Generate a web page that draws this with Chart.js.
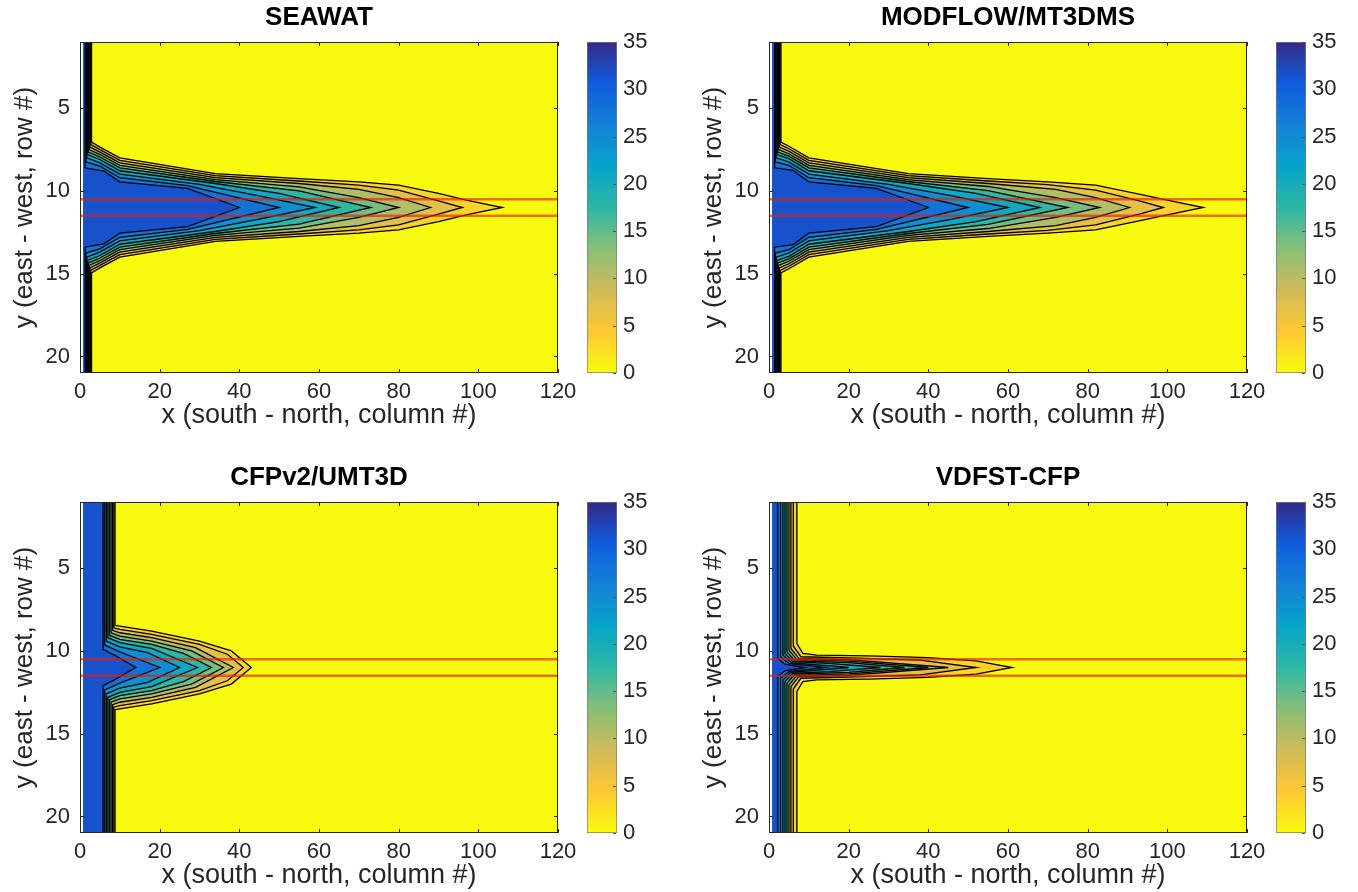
<!DOCTYPE html>
<html>
<head>
<meta charset="utf-8">
<title>Salinity plume comparison</title>
<script src="https://cdn.jsdelivr.net/npm/chart.js@4.4.1/dist/chart.umd.min.js"></script>
<style>
  body { margin: 0; background: #fff; width: 1358px; height: 892px; position: relative; overflow: hidden; }
  canvas { position: absolute; }
</style>
</head>
<body>
<canvas id="p1" width="585" height="432" style="left:0;top:0"></canvas>
<canvas id="c1" width="80" height="432" style="left:580px;top:0"></canvas>
<canvas id="p2" width="585" height="432" style="left:689px;top:0"></canvas>
<canvas id="c2" width="80" height="432" style="left:1269px;top:0"></canvas>
<canvas id="p3" width="585" height="432" style="left:0;top:460px"></canvas>
<canvas id="c3" width="80" height="432" style="left:580px;top:460px"></canvas>
<canvas id="p4" width="585" height="432" style="left:689px;top:460px"></canvas>
<canvas id="c4" width="80" height="432" style="left:1269px;top:460px"></canvas>
<script>
// grid extents and axis ticks
const columnRange = [0, 120];
const rowRange = [1, 21];
const rowTicks = [5, 10, 15, 20];
const concRange = [0, 35];
const firstColumn = 0.8;

// contour levels (concentration) and the conduit row
const levels = [3.5, 7, 10.5, 14, 17.5, 21, 24.5, 28, 31.5];
const plumeRow = 11;
const conduitEdges = [10.5, 11.5];

const titles = ['SEAWAT', 'MODFLOW/MT3DMS', 'CFPv2/UMT3D', 'VDFST-CFP'];

// each contour: [column, half-width in rows] from the boundary wall to the tip
const seawatPlume = [
  [[2.9, 3.95], [5, 3.65], [10, 3.0], [34, 2.05], [55, 1.75], [70, 1.55], [80, 1.35], [90, 0.85], [97, 0.45], [106, 0]],
  [[2.7, 3.8], [5, 3.5], [10, 2.85], [34, 1.92], [55, 1.6], [70, 1.35], [80, 1.05], [90, 0.4], [96, 0]],
  [[2.5, 3.65], [5, 3.35], [10, 2.7], [34, 1.8], [55, 1.45], [70, 1.1], [80, 0.6], [88, 0]],
  [[2.3, 3.5], [5, 3.2], [10, 2.55], [34, 1.68], [55, 1.25], [70, 0.6], [80, 0]],
  [[2.1, 3.35], [5, 3.05], [10, 2.4], [34, 1.57], [55, 1.0], [73, 0]],
  [[1.9, 3.2], [5, 2.9], [10, 2.22], [34, 1.45], [50, 0.85], [65, 0]],
  [[1.7, 3.0], [5, 2.7], [10, 2.02], [30, 1.4], [45, 0.7], [59, 0]],
  [[1.5, 2.75], [5, 2.5], [10, 1.8], [27, 1.32], [50, 0]],
  [[1.3, 2.4], [6, 2.2], [10, 1.55], [27, 1.15], [40, 0]]
];

const modflowPlume = [
  [[3.0, 3.95], [5, 3.7], [10, 3.0], [35, 2.05], [55, 1.75], [70, 1.55], [82, 1.35], [92, 0.85], [100, 0.45], [109, 0]],
  [[2.8, 3.8], [5, 3.55], [10, 2.85], [35, 1.92], [55, 1.6], [70, 1.38], [82, 1.05], [93, 0.4], [99, 0]],
  [[2.6, 3.65], [5, 3.4], [10, 2.7], [35, 1.8], [55, 1.45], [72, 1.1], [82, 0.6], [90.5, 0]],
  [[2.4, 3.5], [5, 3.25], [10, 2.55], [35, 1.68], [55, 1.27], [72, 0.6], [83, 0]],
  [[2.2, 3.35], [5, 3.1], [10, 2.4], [35, 1.57], [55, 1.02], [75, 0]],
  [[2.0, 3.2], [5, 2.95], [10, 2.22], [35, 1.45], [52, 0.85], [68, 0]],
  [[1.8, 3.0], [5, 2.75], [10, 2.02], [30, 1.4], [46, 0.7], [60, 0]],
  [[1.6, 2.75], [5, 2.55], [10, 1.8], [27, 1.32], [50, 0]],
  [[1.4, 2.4], [6, 2.25], [10, 1.55], [27, 1.15], [40, 0]]
];

const cfpPlume = [
  [[8.8, 2.55], [10, 2.5], [18, 2.2], [30, 1.6], [38, 1.0], [43, 0]],
  [[8.5, 2.4], [10, 2.3], [18, 2.0], [30, 1.4], [37, 0.8], [41, 0]],
  [[8.2, 2.25], [10, 2.1], [18, 1.8], [29, 1.2], [38.5, 0]],
  [[7.8, 2.1], [10, 1.9], [18, 1.6], [28, 1.0], [36, 0]],
  [[7.4, 1.95], [10, 1.7], [18, 1.4], [26, 0.85], [33, 0]],
  [[7.0, 1.8], [10, 1.5], [18, 1.15], [29.5, 0]],
  [[6.6, 1.6], [10, 1.25], [17, 0.9], [25, 0]],
  [[6.2, 1.35], [10, 0.95], [20, 0]],
  [[5.8, 1.1], [9, 0.7], [14, 0]]
];

const vdfstPlume = [
  [[7.0, 1.45], [8.5, 0.85], [12, 0.75], [25, 0.7], [40, 0.6], [52, 0.4], [61, 0]],
  [[6.1, 1.3], [8, 0.65], [20, 0.58], [38, 0.45], [52, 0]],
  [[5.5, 1.15], [7.5, 0.55], [20, 0.47], [45, 0]],
  [[5.0, 1.05], [7, 0.47], [20, 0.38], [40, 0]],
  [[4.5, 0.95], [6.5, 0.4], [20, 0.3], [34, 0]],
  [[4.0, 0.85], [6, 0.35], [15, 0.25], [28, 0]],
  [[3.5, 0.75], [5.5, 0.3], [20, 0]],
  [[2.9, 0.65], [5, 0.25], [14, 0]],
  [[2.2, 0.55], [4, 0.2], [9, 0]]
];

const plumes = [seawatPlume, modflowPlume, cfpPlume, vdfstPlume];

// parula, low to high
const parulaStops = ['#352a87', '#0f5cdd', '#1481d6', '#06a4ca', '#2eb7a4', '#87bf77', '#d1bb59', '#fec832', '#f9fb0e'];

const FONT = '"Liberation Sans", Arial, Helvetica, sans-serif';
const TEXT = '#262626';
Chart.defaults.font.family = FONT;

function hexToRgb(h) {
  const n = parseInt(h.slice(1), 16);
  return [(n >> 16) & 255, (n >> 8) & 255, n & 255];
}

// 0 -> yellow, 35 -> dark blue
function concColor(c) {
  const t = (1 - c / concRange[1]) * (parulaStops.length - 1);
  const i = Math.min(Math.floor(t), parulaStops.length - 2);
  const f = t - i;
  const a = hexToRgb(parulaStops[i]);
  const b = hexToRgb(parulaStops[i + 1]);
  const m = a.map((v, j) => Math.round(v + (b[j] - v) * f));
  return 'rgb(' + m.join(',') + ')';
}

// axes box with short inward ticks on all four sides
const boxPlugin = {
  id: 'box',
  afterDatasetsDraw(chart) {
    const { ctx, chartArea: a, scales } = chart;
    ctx.save();
    ctx.strokeStyle = TEXT;
    ctx.lineWidth = 1;
    ctx.strokeRect(a.left + 0.5, a.top + 0.5, a.width - 1, a.height - 1);
    ctx.beginPath();
    scales.x.ticks.forEach(t => {
      const px = Math.round(scales.x.getPixelForValue(t.value)) + 0.5;
      ctx.moveTo(px, a.bottom); ctx.lineTo(px, a.bottom - 4);
      ctx.moveTo(px, a.top); ctx.lineTo(px, a.top + 4);
    });
    scales.y.ticks.forEach(t => {
      const py = Math.round(scales.y.getPixelForValue(t.value)) + 0.5;
      ctx.moveTo(a.left, py); ctx.lineTo(a.left + 4, py);
      ctx.moveTo(a.right, py); ctx.lineTo(a.right - 4, py);
    });
    ctx.stroke();
    ctx.restore();
  }
};

function drawPanel(id, title, plume) {
  const datasets = [];
  // lowest band fills the whole model grid
  datasets.push({
    data: [
      { x: firstColumn, y: rowRange[0] }, { x: columnRange[1], y: rowRange[0] },
      { x: columnRange[1], y: rowRange[1] }, { x: firstColumn, y: rowRange[1] }
    ],
    showLine: true, backgroundColor: concColor(concRange[0]), borderWidth: 0, fill: 'shape', order: 50
  });
  // each level: wall strip on the left plus the plume, outlined in black
  plume.forEach((prof, k) => {
    const wall = prof[0][0];
    const pts = [{ x: firstColumn, y: rowRange[0] }, { x: wall, y: rowRange[0] }];
    prof.forEach(([x, hw]) => pts.push({ x, y: plumeRow - hw }));
    for (let i = prof.length - 2; i >= 0; i--) pts.push({ x: prof[i][0], y: plumeRow + prof[i][1] });
    pts.push({ x: wall, y: rowRange[1] }, { x: firstColumn, y: rowRange[1] });
    datasets.push({
      data: pts, showLine: true, fill: 'shape',
      backgroundColor: concColor(levels[k]), borderColor: '#000', borderWidth: 1.3,
      order: 40 - k
    });
  });
  // conduit boundaries
  conduitEdges.forEach(r => datasets.push({
    data: [{ x: columnRange[0], y: r }, { x: columnRange[1], y: r }],
    showLine: true, fill: false, borderColor: 'rgba(232,30,0,0.65)', borderWidth: 2.4, order: 1
  }));

  new Chart(document.getElementById(id), {
    type: 'scatter',
    data: { datasets },
    plugins: [boxPlugin],
    options: {
      responsive: false,
      animation: false,
      elements: { point: { radius: 0 }, line: { tension: 0 } },
      layout: { padding: { left: 0, right: 27, top: 0, bottom: 0 } },
      plugins: {
        legend: { display: false },
        tooltip: { enabled: false },
        title: {
          display: true, text: title, color: '#000', fullSize: false,
          font: { size: 26, weight: 'bold' }, padding: { top: 2.4, bottom: 8.4 }
        }
      },
      scales: {
        x: {
          type: 'linear', min: columnRange[0], max: columnRange[1],
          ticks: { stepSize: 20, padding: 6, color: TEXT, font: { size: 22 } },
          grid: { display: false, drawTicks: false },
          border: { display: false },
          title: { display: true, text: 'x (south - north, column #)', color: TEXT, font: { size: 27 }, padding: 0 },
          afterFit: s => { s.height = 59; }
        },
        y: {
          type: 'linear', min: rowRange[0], max: rowRange[1], reverse: true,
          afterBuildTicks: s => { s.ticks = rowTicks.map(v => ({ value: v })); },
          ticks: { padding: 10, color: TEXT, font: { size: 22 } },
          grid: { display: false, drawTicks: false },
          border: { display: false },
          title: { display: true, text: 'y (east - west, row #)', color: TEXT, font: { size: 26 }, padding: { top: 9.4, bottom: 0 } },
          afterFit: s => { s.width = 80; }
        }
      }
    }
  });
}

// colorbar ticks point inward from the right edge
const barTickPlugin = {
  id: 'barTicks',
  afterDatasetsDraw(chart) {
    const { ctx, chartArea: a, scales } = chart;
    ctx.save();
    ctx.strokeStyle = '#555';
    ctx.lineWidth = 1;
    ctx.beginPath();
    scales.y.ticks.forEach(t => {
      const py = Math.round(scales.y.getPixelForValue(t.value)) + 0.5;
      ctx.moveTo(a.right - 1, py); ctx.lineTo(a.right - 4, py);
    });
    ctx.stroke();
    ctx.restore();
  }
};

function drawColorbar(id) {
  new Chart(document.getElementById(id), {
    type: 'bar',
    data: {
      labels: [''],
      datasets: [{
        data: [concRange],
        backgroundColor: c => {
          const { ctx, chartArea, scales } = c.chart;
          if (!chartArea) return null;
          const g = ctx.createLinearGradient(0, scales.y.getPixelForValue(concRange[0]), 0, scales.y.getPixelForValue(concRange[1]));
          const n = parulaStops.length;
          parulaStops.forEach((col, i) => g.addColorStop(i / (n - 1), parulaStops[n - 1 - i]));
          return g;
        },
        borderColor: '#7a7a7a', borderWidth: 1, borderSkipped: false,
        barPercentage: 1, categoryPercentage: 1
      }]
    },
    plugins: [barTickPlugin],
    options: {
      responsive: false,
      animation: false,
      layout: { padding: { left: 7, top: 42, bottom: 59, right: 0 } },
      plugins: { legend: { display: false }, tooltip: { enabled: false } },
      scales: {
        x: { display: false },
        y: {
          position: 'right', min: concRange[0], max: concRange[1],
          ticks: { stepSize: 5, padding: 6, color: TEXT, font: { size: 22 } },
          grid: { display: false, drawTicks: false },
          border: { display: false },
          afterFit: s => { s.width = 43; }
        }
      }
    }
  });
}

titles.forEach((t, i) => {
  drawPanel('p' + (i + 1), t, plumes[i]);
  drawColorbar('c' + (i + 1));
});
</script>
</body>
</html>
